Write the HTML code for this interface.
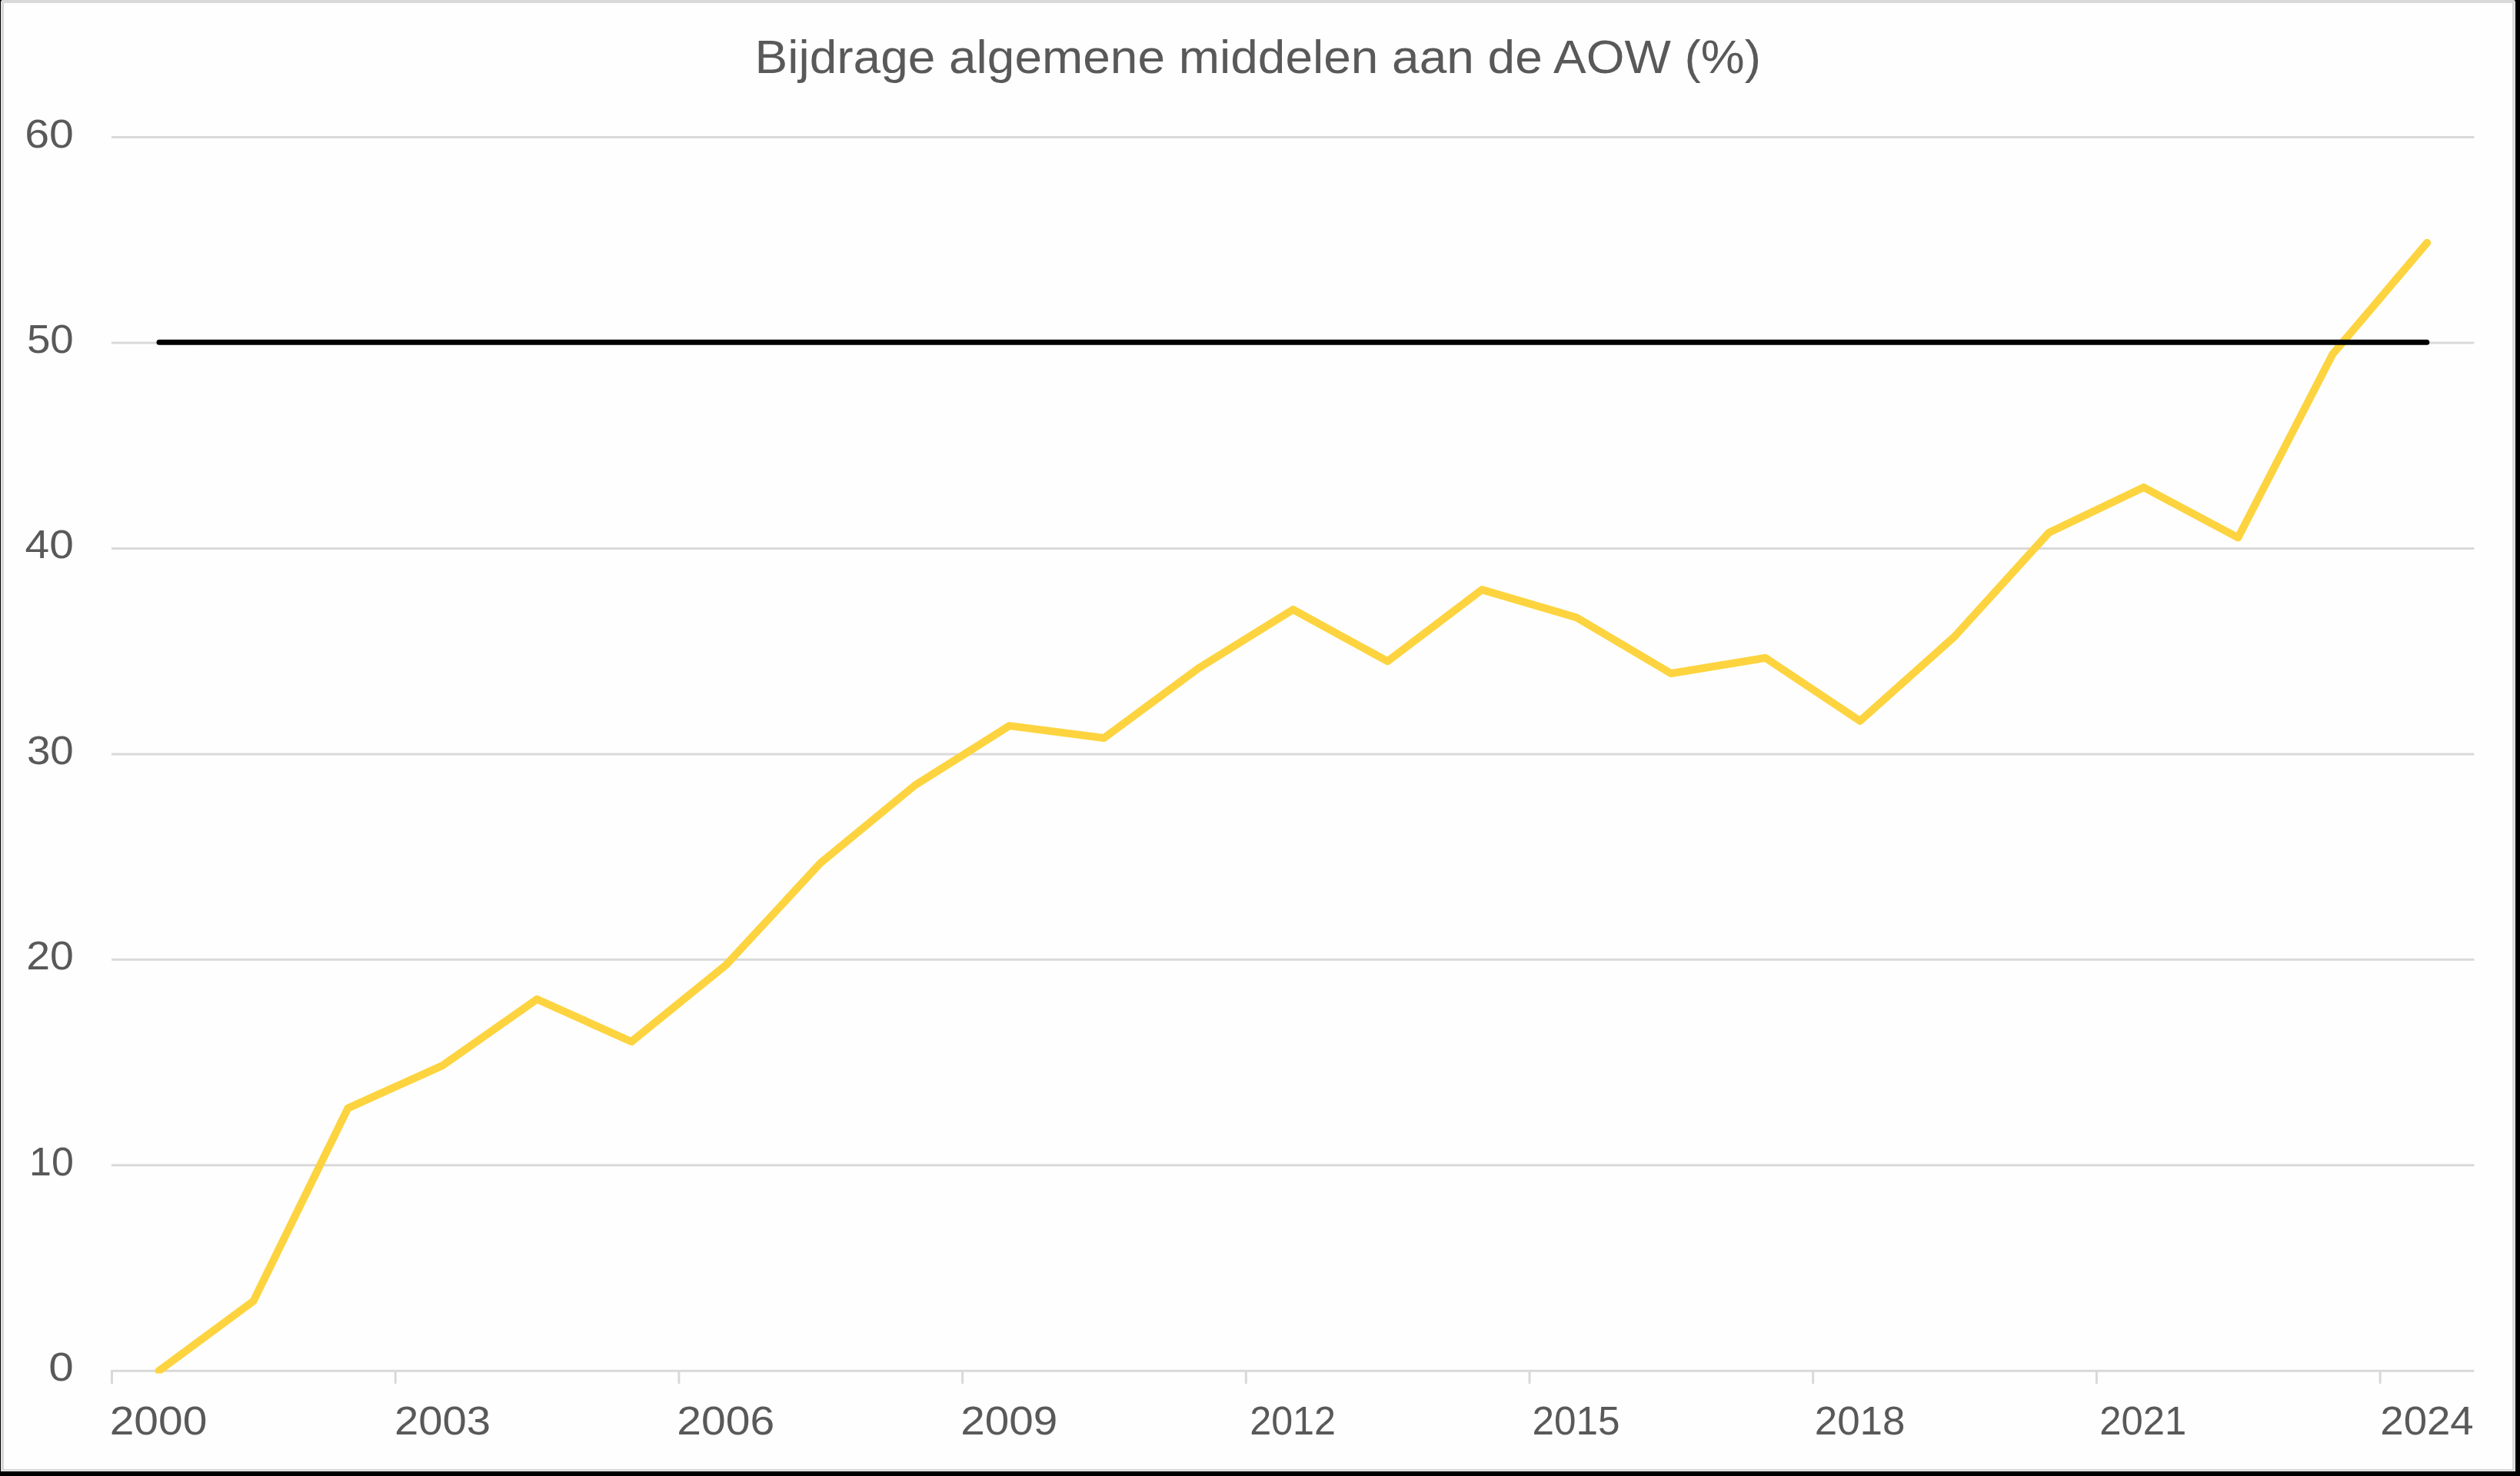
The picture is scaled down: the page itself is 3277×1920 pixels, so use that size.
<!DOCTYPE html>
<html><head><meta charset="utf-8"><style>
html,body{margin:0;padding:0;background:#000;width:3277px;height:1920px;overflow:hidden}
.card{position:absolute;left:1px;top:0;width:3270px;height:1914px;background:#e8e8e8;border-radius:3px 3px 0 0;overflow:hidden}
.brd{position:absolute;left:1px;top:0;right:1px;bottom:1px;background:#d9d9d9}
.inner{position:absolute;left:3px;top:4px;right:3px;bottom:2px;background:#fefefe}
svg{position:absolute;left:0;top:0}
text{font-family:"Liberation Sans",sans-serif;fill:#595959}
</style></head><body>
<div class="card"><div class="brd"><div class="inner"></div></div></div>
<svg width="3277" height="1920" viewBox="0 0 3277 1920"><defs><clipPath id="pc"><rect x="0" y="0" width="3277" height="1786.5"/></clipPath></defs>
<g stroke="#d9d9d9" stroke-width="3"><line x1="145.0" y1="1515.83" x2="3217.4" y2="1515.83"/><line x1="145.0" y1="1248.36" x2="3217.4" y2="1248.36"/><line x1="145.0" y1="980.89" x2="3217.4" y2="980.89"/><line x1="145.0" y1="713.42" x2="3217.4" y2="713.42"/><line x1="145.0" y1="445.95" x2="3217.4" y2="445.95"/><line x1="145.0" y1="178.48" x2="3217.4" y2="178.48"/>
<line x1="145.0" y1="1783.3" x2="3217.4" y2="1783.3"/><line x1="145.50" y1="1782" x2="145.50" y2="1800"/><line x1="514.20" y1="1782" x2="514.20" y2="1800"/><line x1="882.90" y1="1782" x2="882.90" y2="1800"/><line x1="1251.60" y1="1782" x2="1251.60" y2="1800"/><line x1="1620.30" y1="1782" x2="1620.30" y2="1800"/><line x1="1989.00" y1="1782" x2="1989.00" y2="1800"/><line x1="2357.70" y1="1782" x2="2357.70" y2="1800"/><line x1="2726.40" y1="1782" x2="2726.40" y2="1800"/><line x1="3095.10" y1="1782" x2="3095.10" y2="1800"/></g>
<polyline fill="none" stroke="#fdd43f" stroke-width="10" clip-path="url(#pc)" stroke-linejoin="round" stroke-linecap="round" points="206.6,1783.3 329.5,1692.5 452.4,1441.6 575.3,1386.1 698.2,1299.8 821.1,1355.0 944.0,1255.4 1066.9,1122.7 1189.8,1021.5 1312.7,944.1 1435.6,960.0 1558.5,869.3 1681.4,792.9 1804.3,860.2 1927.2,767.1 2050.1,803.3 2173.0,876.0 2295.9,855.8 2418.8,937.8 2541.7,828.0 2664.6,692.7 2787.5,633.9 2910.4,699.3 3033.3,460.8 3156.2,315.8"/>
<line x1="207" y1="445.25" x2="3155.8" y2="445.25" stroke="#000" stroke-width="7" stroke-linecap="round"/>
<text transform="translate(1635.8,94.7) scale(1.0575,1)" font-size="60.5" text-anchor="middle">Bijdrage algemene middelen aan de AOW (%)</text>
<g font-size="52" text-anchor="end"><text transform="translate(95.8,1796.3) scale(1.124,1)">0</text><text transform="translate(95.8,1528.8) scale(1.0,1)">10</text><text transform="translate(95.8,1261.4) scale(1.066,1)">20</text><text transform="translate(95.8,993.9) scale(1.053,1)">30</text><text transform="translate(95.8,726.4) scale(1.094,1)">40</text><text transform="translate(95.8,458.9) scale(1.053,1)">50</text><text transform="translate(95.8,191.5) scale(1.1,1)">60</text></g>
<g font-size="52" text-anchor="middle"><text transform="translate(206.0,1866) scale(1.095,1)">2000</text><text transform="translate(575.6,1866) scale(1.081,1)">2003</text><text transform="translate(943.7,1866) scale(1.097,1)">2006</text><text transform="translate(1312.3,1866) scale(1.09,1)">2009</text><text transform="translate(1681.1,1866) scale(0.967,1)">2012</text><text transform="translate(2049.4,1866) scale(0.986,1)">2015</text><text transform="translate(2418.6,1866) scale(1.018,1)">2018</text><text transform="translate(2786.8,1866) scale(0.977,1)">2021</text><text transform="translate(3156.0,1866) scale(1.05,1)">2024</text></g>
</svg>
</body></html>
